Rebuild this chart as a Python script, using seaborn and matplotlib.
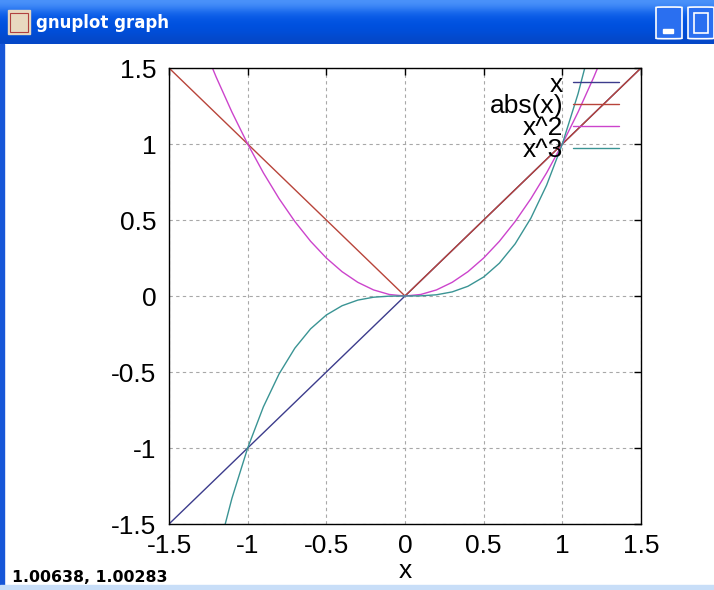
import numpy as np
import pandas as pd
import seaborn as sns
import matplotlib.pyplot as plt
from matplotlib.patches import Rectangle, FancyBboxPatch

# sample points
xs = [-1.5, -1.4, -1.3, -1.2, -1.1, -1.0, -0.9, -0.8, -0.7, -0.6, -0.5, -0.4, -0.3, -0.2, -0.1,
      0.0, 0.1, 0.2, 0.3, 0.4, 0.5, 0.6, 0.7, 0.8, 0.9, 1.0, 1.1, 1.2, 1.3, 1.4, 1.5]
y_x = xs
y_abs = [1.5, 1.4, 1.3, 1.2, 1.1, 1.0, 0.9, 0.8, 0.7, 0.6, 0.5, 0.4, 0.3, 0.2, 0.1,
         0.0, 0.1, 0.2, 0.3, 0.4, 0.5, 0.6, 0.7, 0.8, 0.9, 1.0, 1.1, 1.2, 1.3, 1.4, 1.5]
y_sq = [2.25, 1.96, 1.69, 1.44, 1.21, 1.0, 0.81, 0.64, 0.49, 0.36, 0.25, 0.16, 0.09, 0.04, 0.01,
        0.0, 0.01, 0.04, 0.09, 0.16, 0.25, 0.36, 0.49, 0.64, 0.81, 1.0, 1.21, 1.44, 1.69, 1.96, 2.25]
y_cube = [-3.375, -2.744, -2.197, -1.728, -1.331, -1.0, -0.729, -0.512, -0.343, -0.216, -0.125,
          -0.064, -0.027, -0.008, -0.001, 0.0, 0.001, 0.008, 0.027, 0.064, 0.125, 0.216, 0.343,
          0.512, 0.729, 1.0, 1.331, 1.728, 2.197, 2.744, 3.375]
names = ['x', 'abs(x)', 'x^2', 'x^3']
colors = ['#3c3c8c', '#b8443a', '#cc44cc', '#3a9494']
ticks = [-1.5, -1, -0.5, 0, 0.5, 1, 1.5]
tick_labels = ['-1.5', '-1', '-0.5', '0', '0.5', '1', '1.5']

df = pd.concat([pd.DataFrame({'x': xs, 'y': ys, 'f': n})
                for n, ys in zip(names, [y_x, y_abs, y_sq, y_cube])])

sns.set_style('white')
plt.rcParams['font.family'] = ['Liberation Sans', 'DejaVu Sans']
plt.rcParams['text.color'] = 'black'

W, H = 714, 590
fig = plt.figure(figsize=(W / 100, H / 100), dpi=100)
fig.patch.set_facecolor('white')

# window title bar
tb = fig.add_axes([0, 1 - 44 / H, 1, 44 / H])
grad = np.array([[0.30, 0.58, 0.98], [0.06, 0.38, 0.92], [0.00, 0.32, 0.88],
                 [0.00, 0.31, 0.86], [0.02, 0.28, 0.78]])
tb.imshow(grad[:, None, :], aspect='auto', extent=[0, 1, 0, 1], interpolation='bicubic')
tb.set_axis_off()
tb.add_patch(Rectangle((8 / W, 0.22), 22 / W, 0.55, color='#e8d8c0', transform=tb.transAxes))
tb.add_patch(Rectangle((10 / W, 0.28), 18 / W, 0.42, fill=False, ec='#b04040', lw=0.8,
                       transform=tb.transAxes))
tb.text(36 / W, 0.48, 'gnuplot graph', color='white', fontsize=12, fontweight='bold',
        family='DejaVu Sans', va='center', ha='left', transform=tb.transAxes)
for bx in [656, 688]:
    tb.add_patch(FancyBboxPatch((bx / W, 0.12), 26 / W, 0.72, boxstyle='round,pad=0,rounding_size=0.01',
                                fc='#2a6ff0', ec='white', lw=1.2, transform=tb.transAxes))
tb.add_patch(Rectangle((663 / W, 0.25), 10 / W, 0.08, color='white', transform=tb.transAxes))
tb.add_patch(Rectangle((694 / W, 0.25), 14 / W, 0.45, fill=False, ec='white', lw=1.2,
                       transform=tb.transAxes))
fig.add_artist(Rectangle((0, 0), 4 / W, 1 - 44 / H, color='#1656d8', transform=fig.transFigure))
fig.add_artist(Rectangle((0, 0), 1, 5 / H, color='#c8def8', transform=fig.transFigure))

ax = fig.add_axes([169 / W, 1 - 524 / H, 472 / W, 456 / H])
sns.lineplot(data=df, x='x', y='y', hue='f', hue_order=names, palette=colors,
             linewidth=1.0, ax=ax, sort=True)
ax.set_xlim(-1.5, 1.5)
ax.set_ylim(-1.5, 1.5)
ax.set_xticks(ticks)
ax.set_xticklabels(tick_labels)
ax.set_yticks(ticks)
ax.set_yticklabels(tick_labels)
ax.tick_params(direction='in', length=5, width=1, top=True, right=True,
               labelsize=19, colors='black')
ax.tick_params(axis='x', pad=7)
ax.tick_params(axis='y', pad=9)
ax.grid(True, color='#a8a8a8', linestyle=(0, (3, 3)), linewidth=0.8)
for s in ax.spines.values():
    s.set_color('black')
    s.set_linewidth(1.0)
ax.set_xlabel('x', fontsize=19, labelpad=1, color='black')
ax.set_ylabel('')

handles, labels = ax.get_legend_handles_labels()
ax.legend(handles, labels, loc='upper right', bbox_to_anchor=(0.953, 0.99),
          frameon=False, markerfirst=False, fontsize=19, borderpad=0, borderaxespad=0,
          handlelength=1.75, handletextpad=0.35, labelspacing=-0.08)

fig.text(12 / W, 1 - 577 / H, '1.00638, 1.00283', fontsize=11.3, fontweight='bold',
         family='DejaVu Sans', va='center', ha='left')

fig.savefig('out.png', dpi=100)
